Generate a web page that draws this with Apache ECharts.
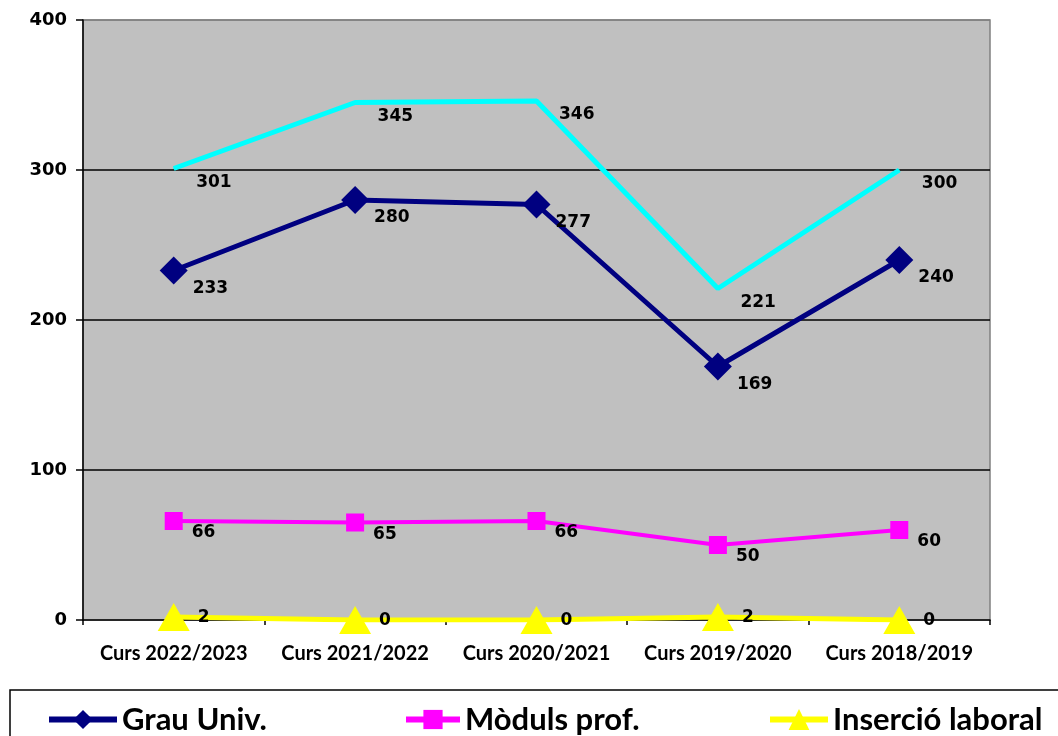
<!DOCTYPE html>
<html>
<head>
<meta charset="utf-8">
<script src="https://cdn.jsdelivr.net/npm/echarts@6/dist/echarts.min.js"></script>
<style>
  html, body { margin: 0; padding: 0; background: #fff; }
  #chart { width: 1058px; height: 736px; }
</style>
</head>
<body>
<div id="chart"></div>
<script>
const categories = ['Curs 2022/2023', 'Curs 2021/2022', 'Curs 2020/2021', 'Curs 2019/2020', 'Curs 2018/2019'];
const totalValues = [301, 345, 346, 221, 300];
const grauValues = [233, 280, 277, 169, 240];
const modulsValues = [66, 65, 66, 50, 60];
const insercioValues = [2, 0, 0, 2, 0];
const yTicks = [0, 100, 200, 300, 400];

const numFont = 'DejaVu Sans';
const textFont = 'Lato';

function valueLabel(distance, offset) {
    return {
        show: true,
        position: 'right',
        distance: distance,
        offset: offset,
        color: '#000',
        fontFamily: numFont,
        fontWeight: 'bold',
        fontSize: 17
    };
}

const legendText = { fontFamily: textFont, fontWeight: 'bold', fontSize: 31, color: '#000' };

const chart = echarts.init(document.getElementById('chart'));

const option = {
    animation: false,
    backgroundColor: '#fff',
    grid: {
        left: 83,
        top: 20,
        right: 68,
        bottom: 116,
        show: true,
        backgroundColor: '#C0C0C0',
        borderColor: '#808080',
        borderWidth: 1.5
    },
    graphic: [
        {
            type: 'rect',
            shape: { x: 10, y: 690, width: 1060, height: 60 },
            style: { fill: '#fff', stroke: '#000', lineWidth: 1.5 },
            z: 0
        }
    ],
    legend: [
        {
            data: ['Grau Univ.'],
            left: 41, top: 699,
            itemWidth: 68, itemHeight: 24, itemGap: 4,
            lineStyle: { width: 6 },
            textStyle: legendText
        },
        {
            data: ['Mòduls prof.'],
            left: 398, top: 699,
            itemWidth: 54, itemHeight: 24,
            lineStyle: { width: 6 },
            textStyle: legendText
        },
        {
            data: ['Inserció laboral'],
            left: 762, top: 699,
            itemWidth: 58, itemHeight: 26,
            lineStyle: { width: 6 },
            textStyle: legendText
        }
    ],
    xAxis: {
        type: 'category',
        data: categories,
        boundaryGap: true,
        axisLine: { lineStyle: { color: '#000', width: 1.5 } },
        axisTick: { show: true, length: 5, lineStyle: { color: '#000', width: 1.5 } },
        axisLabel: {
            interval: 0,
            hideOverlap: false,
            color: '#000',
            fontFamily: textFont,
            fontWeight: 'bold',
            fontSize: 20,
            margin: 24
        }
    },
    yAxis: {
        type: 'value',
        min: yTicks[0],
        max: yTicks[yTicks.length - 1],
        interval: 100,
        axisLine: { show: true, lineStyle: { color: '#000', width: 1.5 } },
        axisTick: { show: true, length: 7, lineStyle: { color: '#000', width: 1.5 } },
        axisLabel: {
            color: '#000',
            fontFamily: numFont,
            fontWeight: 'bold',
            fontSize: 18,
            margin: 16
        },
        splitLine: {
            show: true,
            lineStyle: { color: ['transparent', '#000', '#000', '#000', '#808080'], width: 1.5 }
        }
    },
    series: [
        {
            name: 'Total',
            type: 'line',
            data: totalValues,
            symbol: 'circle',
            symbolSize: 1,
            lineStyle: { color: '#00FFFF', width: 5 },
            itemStyle: { color: '#00FFFF' },
            label: valueLabel(22, [0, 14]),
            z: 2
        },
        {
            name: 'Grau Univ.',
            type: 'line',
            data: grauValues,
            symbol: 'diamond',
            symbolSize: 28,
            lineStyle: { color: '#000080', width: 5 },
            itemStyle: { color: '#000080' },
            label: valueLabel(5, [0, 18]),
            z: 3
        },
        {
            name: 'Mòduls prof.',
            type: 'line',
            data: modulsValues,
            symbol: 'rect',
            symbolSize: 18,
            lineStyle: { color: '#FF00FF', width: 4 },
            itemStyle: { color: '#FF00FF' },
            label: valueLabel(9, [0, 12]),
            z: 3
        },
        {
            name: 'Inserció laboral',
            type: 'line',
            data: insercioValues,
            symbol: 'triangle',
            symbolSize: [32, 28],
            lineStyle: { color: '#FFFF00', width: 5 },
            itemStyle: { color: '#FFFF00' },
            label: valueLabel(8, [0, 1]),
            z: 4
        }
    ]
};

chart.setOption(option);
</script>
</body>
</html>
